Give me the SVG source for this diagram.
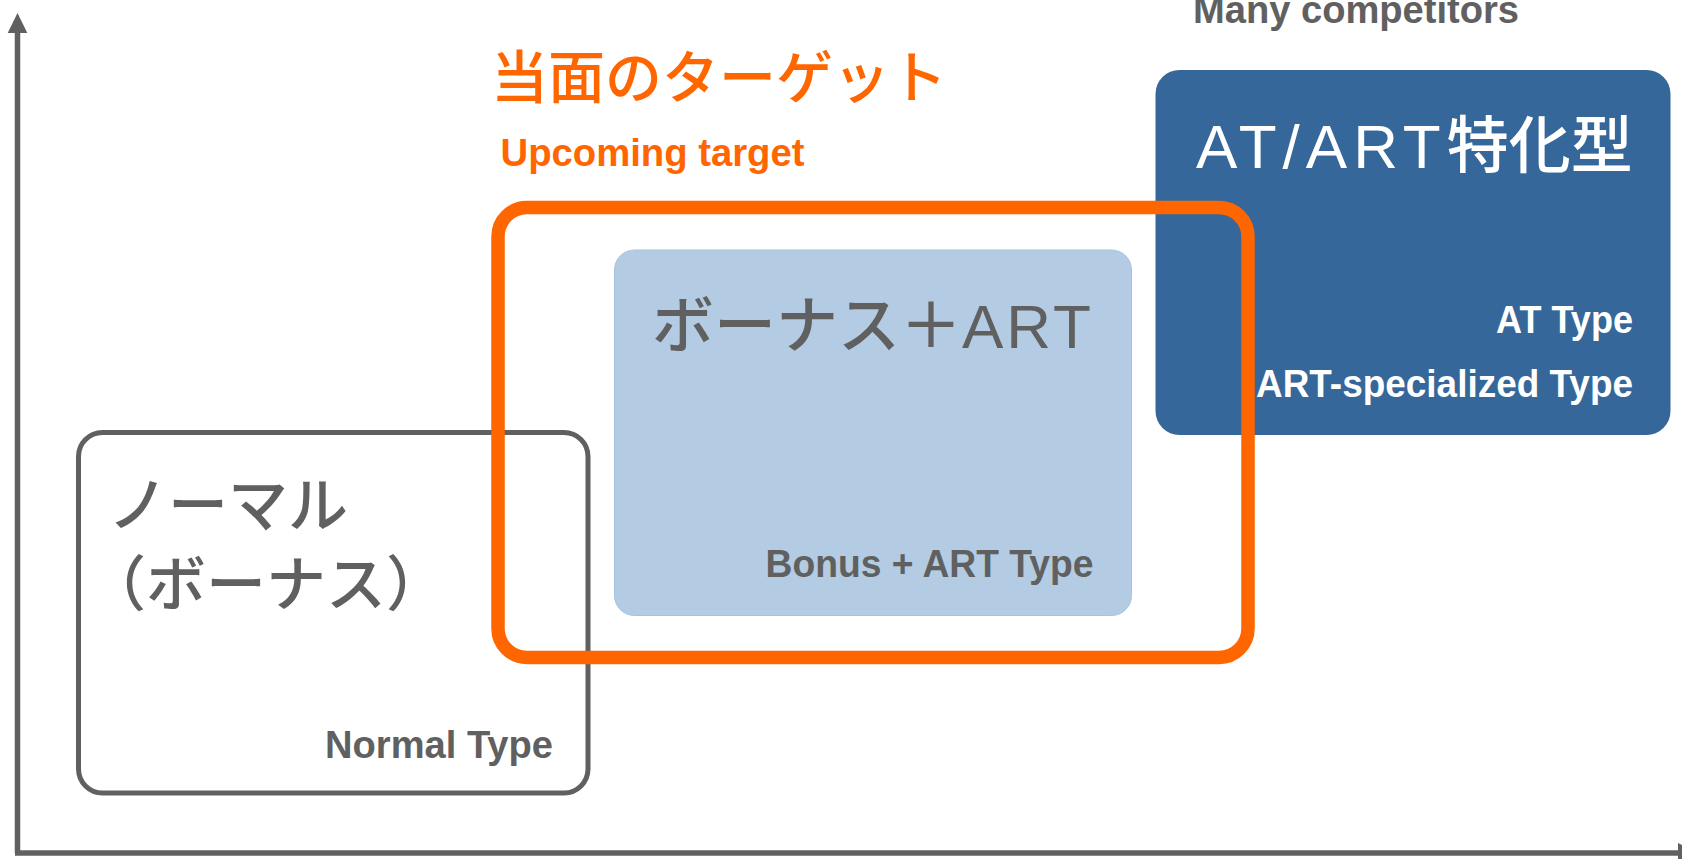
<svg xmlns="http://www.w3.org/2000/svg" width="1682" height="859" viewBox="0 0 1682 859">
  <defs>
    <style>
      .axis { stroke: #606060; stroke-width: 5.5; fill: none; }
      .arrow { fill: #606060; }
      .jp { font-family: 'Liberation Sans', 'Noto Sans CJK JP', sans-serif; font-weight: 500; }
      .en { font-family: 'Liberation Sans', Arial, sans-serif; font-weight: bold; font-size: 38px; }
      .gray { fill: #606060; }
      .white { fill: #FFFFFF; }
      .orange { fill: #FF6600; }
    </style>
  </defs>
  <rect x="0" y="0" width="1682" height="859" fill="#FFFFFF"/>

  <g id="axes">
    <line class="axis" x1="17.5" y1="853" x2="17.5" y2="30"/>
    <polygon class="arrow" points="17.5,13 7.7,33 27.3,33"/>
    <line class="axis" x1="15" y1="853" x2="1680" y2="853"/>
    <polygon class="arrow" points="1678,843 1698,853 1678,863"/>
  </g>

  <g id="label-many-competitors">
    <text class="en gray" x="1193" y="22.5" textLength="326" lengthAdjust="spacingAndGlyphs">Many competitors</text>
  </g>

  <g id="normal">
    <rect x="78.5" y="432.5" width="509.5" height="360.5" rx="24" ry="24" fill="#FFFFFF" stroke="#606060" stroke-width="5"/>
    <text class="jp gray" font-size="60" x="108" y="527">ノーマル</text>
    <text class="jp gray" font-size="60" x="86" y="606">（ボーナス）</text>
    <text class="en gray" x="325" y="757.5" textLength="228" lengthAdjust="spacingAndGlyphs">Normal Type</text>
  </g>

  <g id="bonus-art">
    <rect x="614.5" y="250" width="517" height="365.5" rx="20" ry="20" fill="#B3CCE4" stroke="#A9C2DB" stroke-width="1"/>
    <text class="jp gray" font-size="62" x="652" y="348">ボーナス＋<tspan letter-spacing="3">ART</tspan></text>
    <text class="en gray" x="765.5" y="577" textLength="328" lengthAdjust="spacingAndGlyphs">Bonus + ART Type</text>
  </g>

  <g id="at-art">
    <rect x="1155.5" y="70" width="515" height="365" rx="24" ry="24" fill="#35679A"/>
    <text class="jp white" font-size="62" x="1196" y="168"><tspan letter-spacing="6">AT/ART</tspan>特化型</text>
    <text class="en white" x="1496" y="333" textLength="137" lengthAdjust="spacingAndGlyphs">AT Type</text>
    <text class="en white" x="1256" y="397" textLength="377" lengthAdjust="spacingAndGlyphs">ART-specialized Type</text>
  </g>

  <g id="target">
    <rect x="498" y="207.5" width="750" height="450" rx="29" ry="29" fill="none" stroke="#FF6600" stroke-width="13.5"/>
    <text class="jp orange" font-size="57" x="491" y="98">当面のターゲット</text>
    <text class="en orange" x="500.5" y="166" textLength="304" lengthAdjust="spacingAndGlyphs">Upcoming target</text>
  </g>
</svg>
